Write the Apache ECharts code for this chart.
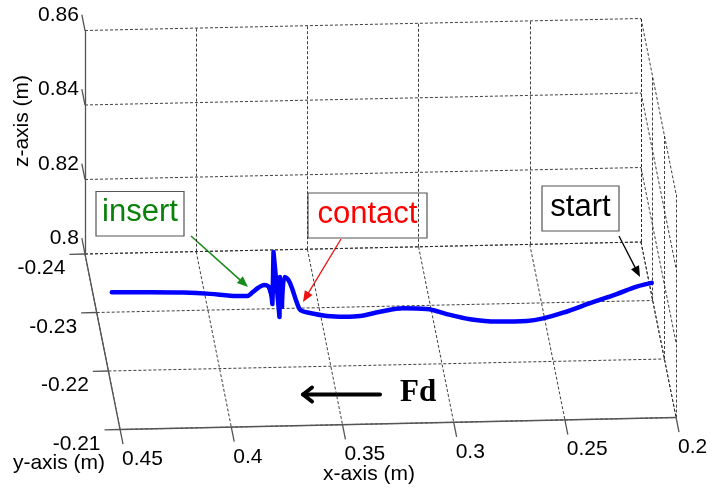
<!DOCTYPE html>
<html>
<head>
<meta charset="utf-8">
<script src="https://cdn.jsdelivr.net/npm/echarts@6/dist/echarts.min.js"></script>
<style>
  html, body { margin: 0; padding: 0; background: #ffffff; }
  #chart { width: 712px; height: 494px; }
</style>
</head>
<body>
<div id="chart"></div>
<script>
// ---- axis ticks (m) ----
const xTicks = [0.45, 0.4, 0.35, 0.3, 0.25, 0.2];
const yTicks = [-0.24, -0.23, -0.22, -0.21];
const zTicks = [0.8, 0.82, 0.84, 0.86];
const xTickLabels = ['0.45', '0.4', '0.35', '0.3', '0.25', '0.2'];
const yTickLabels = ['-0.24', '-0.23', '-0.22', '-0.21'];
const zTickLabels = ['0.8', '0.82', '0.84', '0.86'];

// ---- end-effector trajectory (m), from start to end ----
const pathX = [0.1991, 0.2059, 0.2149, 0.2269, 0.2389, 0.2479, 0.2553, 0.2688, 0.2808, 0.2913,
               0.3003, 0.3108, 0.3213, 0.3303, 0.3370, 0.3451, 0.3528, 0.3570, 0.3586, 0.3609,
               0.3625, 0.3642, 0.3654, 0.3663, 0.3665, 0.3678, 0.3692, 0.3695, 0.3697, 0.3701,
               0.3712, 0.3735, 0.3762, 0.3784, 0.3812, 0.3887, 0.3977, 0.4097, 0.4247, 0.4419];
const pathZ = [0.8008, 0.7999, 0.7980, 0.7957, 0.7933, 0.7919, 0.7913, 0.7913, 0.7921, 0.7936,
               0.7951, 0.7954, 0.7946, 0.7936, 0.7935, 0.7938, 0.7947, 0.7955, 0.7974, 0.8015,
               0.8037, 0.8045, 0.7965, 0.8045, 0.7938, 0.8024, 0.8113, 0.8011, 0.7973, 0.7997,
               0.8019, 0.8025, 0.8017, 0.8007, 0.7996, 0.7998, 0.8004, 0.8009, 0.8012, 0.8014];
const pathY = -0.2325; // depth of the motion plane

// ---- view: oblique projection of the 3-D box onto the page ----
const xMin = 0.2, xMax = 0.45, yMin = -0.24, yMax = -0.21, zMin = 0.8, zMax = 0.86;
const STEP = { x: 0.05, y: 0.01, z: 0.02 };
const ORIGIN = [85, 254];          // screen point of (xMax, yMin, zMin)
const EX = [111.2, -2.4];          // screen shift per x step (toward smaller x)
const EY = [11.7, 58.5];           // screen shift per y step
const EZ = [0, -74.5];             // screen shift per z step
function project(x, y, z) {
  const u = (xMax - x) / STEP.x, v = (y - yMin) / STEP.y, w = (z - zMin) / STEP.z;
  return [ORIGIN[0] + EX[0] * u + EY[0] * v + EZ[0] * w,
          ORIGIN[1] + EX[1] * u + EY[1] * v + EZ[1] * w];
}

// tick lengths in data units
const Z_TICK = -0.0027, Y_TICK = 0.007, X_TICK = 0.0025;

// dashed grid on the three back planes
const gridSegs = [];
zTicks.forEach(z => gridSegs.push([project(xMax, yMin, z), project(xMin, yMin, z)]));
xTicks.forEach(x => gridSegs.push([project(x, yMin, zMin), project(x, yMin, zMax)]));
yTicks.forEach(y => gridSegs.push([project(xMax, y, zMin), project(xMin, y, zMin)]));
xTicks.forEach(x => gridSegs.push([project(x, yMin, zMin), project(x, yMax, zMin)]));
zTicks.forEach(z => gridSegs.push([project(xMin, yMin, z), project(xMin, yMax, z)]));
yTicks.forEach(y => gridSegs.push([project(xMin, y, zMin), project(xMin, y, zMax)]));

// solid axis lines and ticks
const axisSegs = [
  [project(xMax, yMin, zMin), project(xMax, yMin, zMax)],   // z axis
  [project(xMax, yMin, zMin), project(xMax, yMax, zMin)],   // y axis
  [project(xMax, yMax, zMin), project(xMin, yMax, zMin)]    // x axis
];
const tickSegs = [];
const tickText = [];
zTicks.forEach((z, i) => {
  const a = project(xMax, yMin, z), b = project(xMax, yMin + Z_TICK, z);
  tickSegs.push([a, b]);
  tickText.push({ p: [b[0] - 3, b[1]], text: zTickLabels[i], align: 'right' });
});
yTicks.forEach((y, i) => {
  const a = project(xMax, y, zMin), b = project(xMax + Y_TICK, y, zMin);
  tickSegs.push([a, b]);
  tickText.push({ p: [b[0] - 4, b[1] + 14], text: yTickLabels[i], align: 'right' });
});
xTicks.forEach((x, i) => {
  const a = project(x, yMax, zMin), b = project(x, yMax + X_TICK, zMin);
  tickSegs.push([a, b]);
  tickText.push({ p: [b[0] - 1, b[1] + 15], text: xTickLabels[i], align: 'left' });
});

const trajectory = pathX.map((x, i) => project(x, pathY, pathZ[i]));
// free-motion stretches are drawn smoothed; the contact chatter keeps its sharp corners
const pieces = [
  { from: 0, to: 22, smooth: 0.35 },
  { from: 22, to: 30, smooth: false },
  { from: 29, to: 39, smooth: 0.35 }
];

// ---- callouts ----
const SANS = '"Liberation Sans", Arial, sans-serif';
function arrow(from, to, color, width, headLen, headHalf) {
  const dx = to[0] - from[0], dy = to[1] - from[1], L = Math.hypot(dx, dy);
  const ux = dx / L, uy = dy / L;
  const base = [to[0] - ux * headLen, to[1] - uy * headLen];
  return [
    { type: 'line', shape: { x1: from[0], y1: from[1], x2: base[0] + ux, y2: base[1] + uy },
      style: { stroke: color, lineWidth: width } },
    { type: 'polygon',
      shape: { points: [to, [base[0] - uy * headHalf, base[1] + ux * headHalf],
                            [base[0] + uy * headHalf, base[1] - ux * headHalf]] },
      style: { fill: color } }
  ];
}
function box(x, y, w, h, text, color) {
  return [
    { type: 'rect', shape: { x: x, y: y, width: w, height: h },
      style: { fill: '#ffffff', stroke: '#555555', lineWidth: 1.2 } },
    { type: 'text', x: x + w / 2, y: y + h / 2 - 1,
      style: { text: text, fill: color, fontSize: 31, fontFamily: SANS,
               align: 'center', verticalAlign: 'middle' } }
  ];
}

const graphics = [].concat(
  box(96, 191.5, 88, 44.5, 'insert', '#0a820a'),
  arrow([191, 236], [248, 287], '#1a8a1a', 1.6, 11, 4.5),
  box(308, 193, 119, 45, 'contact', '#ff0000'),
  arrow([341, 239], [303, 302], '#ee1111', 1.3, 11, 4.5),
  box(542, 186, 77, 45, 'start', '#000000'),
  arrow([619, 236], [640, 277], '#000000', 1.3, 11, 4.5),
  [
    { type: 'line', shape: { x1: 303, y1: 394.5, x2: 380, y2: 394.5 },
      style: { stroke: '#000', lineWidth: 4, lineCap: 'round' } },
    { type: 'polyline', shape: { points: [[312, 387.5], [303, 394.5], [312, 401.5]] },
      style: { stroke: '#000', lineWidth: 4, lineCap: 'round', lineJoin: 'round', fill: null } },
    { type: 'text', x: 400, y: 393,
      style: { text: 'Fd', fill: '#000', fontSize: 31, fontWeight: 'bold',
               fontFamily: '"Liberation Serif", "Times New Roman", serif',
               align: 'left', verticalAlign: 'middle' } },
    { type: 'text', x: 22, y: 121, rotation: Math.PI / 2,
      style: { text: 'z-axis (m)', fill: '#000', fontSize: 21, fontFamily: SANS,
               align: 'center', verticalAlign: 'middle' } },
    { type: 'text', x: 59, y: 463,
      style: { text: 'y-axis (m)', fill: '#000', fontSize: 21, fontFamily: SANS,
               align: 'center', verticalAlign: 'middle' } },
    { type: 'text', x: 369, y: 474,
      style: { text: 'x-axis (m)', fill: '#000', fontSize: 21, fontFamily: SANS,
               align: 'center', verticalAlign: 'middle' } }
  ]
);

const pathSeries = pieces.map(pc => ({
  type: 'line', z: 3, silent: true, showSymbol: false, clip: false,
  smooth: pc.smooth,
  lineStyle: { color: '#0000ff', width: 4.5, join: 'round', cap: 'round' },
  data: trajectory.slice(pc.from, pc.to + 1)
}));

const chart = echarts.init(document.getElementById('chart'));
chart.setOption({
  animation: false,
  backgroundColor: '#ffffff',
  grid: { left: 0, right: 0, top: 0, bottom: 0 },
  xAxis: { type: 'value', min: 0, max: 712, show: false },
  yAxis: { type: 'value', min: 0, max: 494, inverse: true, show: false },
  series: [
    {
      type: 'lines', coordinateSystem: 'cartesian2d', silent: true, z: 1,
      lineStyle: { color: '#2a2a2a', width: 1, type: [3, 2], opacity: 0.9 },
      data: gridSegs.map(s => ({ coords: s }))
    },
    {
      type: 'lines', coordinateSystem: 'cartesian2d', silent: true, z: 2,
      lineStyle: { color: '#555555', width: 1.3, type: 'solid', opacity: 1 },
      data: axisSegs.concat(tickSegs).map(s => ({ coords: s }))
    }
  ].concat(pathSeries, [
    {
      type: 'custom', z: 4, silent: true, clip: false,
      data: tickText.map(t => t.p),
      renderItem: function (params, api) {
        const t = tickText[params.dataIndex];
        const p = api.coord([api.value(0), api.value(1)]);
        return {
          type: 'text', x: p[0], y: p[1],
          style: { text: t.text, fill: '#000', fontSize: 21, fontFamily: SANS,
                   align: t.align, verticalAlign: 'middle' }
        };
      }
    }
  ]),
  graphic: graphics
});
</script>
</body>
</html>
